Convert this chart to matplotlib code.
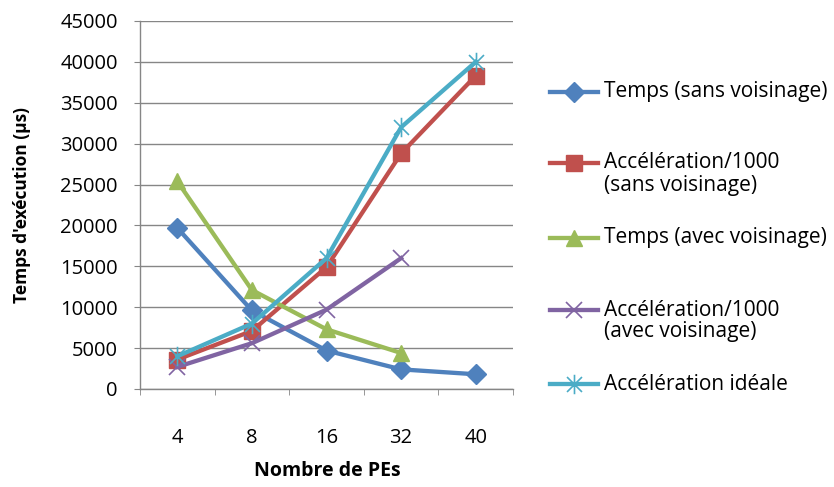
import numpy as np
import matplotlib
matplotlib.use("Agg")
import matplotlib.pyplot as plt
from matplotlib.lines import Line2D
from matplotlib.path import Path

plt.rcParams['font.family'] = ['Open Sans', 'DejaVu Sans']

categories = ['4', '8', '16', '32', '40']
temps_sans = [19700, 9600, 4700, 2400, 1800]
accel_sans = [3600, 7100, 14900, 28800, 38300]
temps_avec = [25400, 12100, 7300, 4400]
accel_avec = [2700, 5600, 9700, 16000]
accel_ideale = [4000, 8000, 16000, 32000, 40000]

labels = ['Temps (sans voisinage)', 'Accélération/1000\n(sans voisinage)',
          'Temps (avec voisinage)', 'Accélération/1000\n(avec voisinage)',
          'Accélération idéale']
colors = ['#4F81BD', '#C0504D', '#9BBB59', '#8064A2', '#4BACC6']

# Excel-style star: an x with a vertical stroke
star = Path([(-1, -1), (1, 1), (-1, 1), (1, -1), (0, -1.3), (0, 1.3)],
            [Path.MOVETO, Path.LINETO, Path.MOVETO, Path.LINETO,
             Path.MOVETO, Path.LINETO])
markers = ['D', 's', '^', 'x', star]
msizes = [10, 11, 12, 11, 14]
mews = [1, 1, 1, 1.2, 1.2]

W, H = 834, 487
fig = plt.figure(figsize=(W / 100, H / 100), dpi=100)
ax = fig.add_axes([140 / W, 1 - 389 / H, 373 / W, 368 / H])

x = np.arange(len(categories))
series = [temps_sans, accel_sans, temps_avec, accel_avec, accel_ideale]
for s, c, m, ms, mew in zip(series, colors, markers, msizes, mews):
    ax.plot(x[:len(s)], s, color=c, lw=3.1, marker=m, markersize=ms,
            markeredgecolor=c, markeredgewidth=mew)

ax.set_xlim(-0.5, len(categories) - 0.5)
ax.set_ylim(0, 45000)
ax.set_yticks(np.arange(0, 45001, 5000))
ax.set_xticks(x)
ax.set_xticklabels(categories)
ax.set_xticks(np.arange(-0.5, len(categories), 1), minor=True)
ax.tick_params(axis='x', which='major', length=0, pad=28, labelsize=14.5)
ax.tick_params(axis='x', which='minor', length=4, color='#868686', direction='out')
ax.tick_params(axis='y', length=4, color='#868686', labelsize=14.5, pad=12)
ax.grid(axis='y', color='#868686', lw=1)
ax.set_axisbelow(True)
for sp in ['top', 'right']:
    ax.spines[sp].set_visible(False)
for sp in ['left', 'bottom']:
    ax.spines[sp].set_color('#868686')
    ax.spines[sp].set_linewidth(1)

ax.set_xlabel('Nombre de PEs', fontsize=14, fontweight='bold', va='center')
ax.xaxis.set_label_coords((327 - 140) / 373, -(471 - 389) / 368)
ax.set_ylabel("Temps d'exécution (µs)", fontsize=12.5, fontweight='bold', va='center')
ax.yaxis.set_label_coords(-(140 - 22) / 373, 0.5)

# legend drawn by hand: handle aligned with the first line of each label
legend_y = [92, 163, 238, 310, 384]
for lab, c, m, ms, mew, yp in zip(labels, colors, markers, msizes, mews, legend_y):
    yf = 1 - yp / H
    fig.add_artist(Line2D([550 / W, 598 / W], [yf, yf], color=c, lw=3.1))
    fig.add_artist(Line2D([574 / W], [yf], color=c, marker=m, markersize=ms,
                          markeredgecolor=c, markeredgewidth=mew))
    for i, line in enumerate(lab.split('\n')):
        fig.text(604 / W, 1 - (yp + 22 * i) / H, line, fontsize=15,
                 va='center', ha='left')

fig.savefig('out.png', dpi=100)
